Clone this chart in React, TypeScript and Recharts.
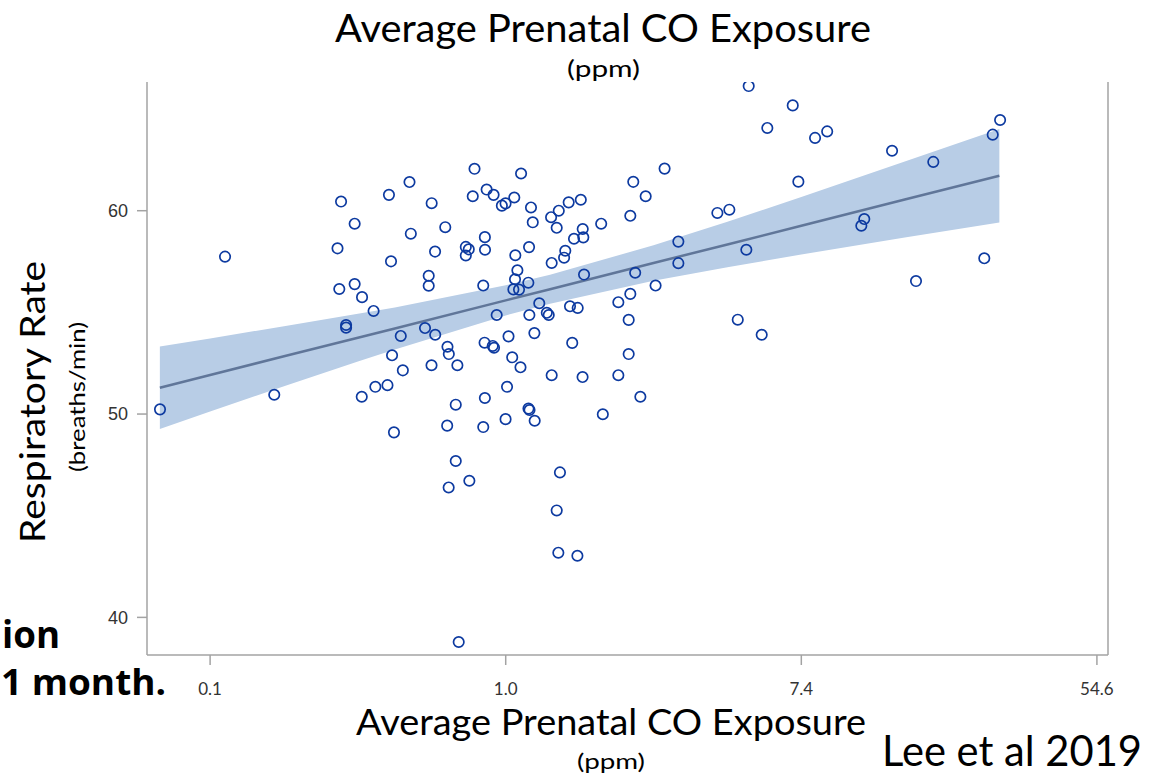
import React from "react"
import {
  ComposedChart,
  Scatter,
  Line,
  Area,
  XAxis,
  YAxis,
  ReferenceLine,
} from "recharts"

// ln(average prenatal CO, ppm) for each infant
const LN_CO = [
  -2.339, -1.899, -1.566, -1.138, -1.126, -1.114, -1.08, -1.08, -1.022, -1.022,
  -0.972, -0.894, -0.974, -0.882, -0.8, -0.79, -0.776, -0.769, -0.756, -0.71,
  -0.696, -0.651, -0.642, -0.546, -0.521, -0.521, -0.501, -0.502, -0.477, -0.478,
  -0.409, -0.394, -0.385, -0.396, -0.386, -0.338, -0.338, -0.327, -0.318, -0.27,
  -0.25, -0.27, -0.246, -0.223, -0.211, -0.141, -0.14, -0.152, -0.143, -0.088,
  -0.079, -0.141, -0.152, -0.129, -0.082, -0.061, -0.026, -0.001, -0.001, 0.009,
  0.019, 0.044, 0.058, 0.065, 0.079, 0.063, 0.052, 0.09, 0.153, 0.1,
  0.104, 0.158, 0.16, 0.171, 0.183, 0.194, 0.154, 0.161, 0.196, 0.227,
  0.278, 0.291, 0.307, 0.311, 0.311, 0.345, 0.345, 0.356, 0.359, 0.367,
  0.403, 0.395, 0.426, 0.435, 0.487, 0.45, 0.462, 0.485, 0.508, 0.521,
  0.525, 0.52, 0.53, 0.646, 0.657, 0.762, 0.762, 0.832, 0.832, 0.843,
  0.843, 0.863, 0.876, 0.911, 0.947, 1.014, 1.075, 1.168, 1.168, 1.432,
  1.513, 1.57, 1.628, 1.644, 1.732, 1.77, 1.942, 1.98, 2.093, 2.175,
  2.406, 2.426, 2.614, 2.776, 2.893, 3.238, 3.295, 3.345,
]

// respiratory rate at 1 month (breaths/min)
const RESP_RATE = [
  50.23, 57.74, 50.95, 58.15, 56.15, 60.45, 54.38, 54.25, 59.36, 56.39,
  55.75, 55.07, 50.85, 51.34, 51.42, 60.78, 57.51, 52.89, 49.1, 53.84,
  52.15, 61.41, 58.87, 54.23, 56.8, 56.31, 60.37, 52.4, 53.9, 57.99,
  59.19, 53.31, 52.95, 49.43, 46.39, 50.46, 47.69, 52.4, 38.79, 58.22,
  58.1, 57.8, 46.72, 60.71, 62.06, 58.7, 58.08, 56.32, 53.51, 53.35,
  53.26, 50.79, 49.36, 61.04, 60.78, 54.87, 60.25, 60.36, 49.75, 51.34,
  53.82, 52.79, 60.65, 57.81, 57.07, 56.63, 56.13, 56.12, 56.46, 52.3,
  61.83, 58.21, 54.87, 60.16, 59.43, 53.98, 50.27, 50.2, 49.67, 55.45,
  54.98, 54.87, 59.68, 57.43, 51.91, 59.16, 45.26, 43.18, 60.0, 47.13,
  58.03, 57.69, 60.41, 55.3, 55.22, 53.5, 58.62, 43.03, 60.54, 59.1,
  58.69, 51.82, 56.86, 59.36, 49.99, 55.5, 51.91, 54.63, 52.95, 59.75,
  55.91, 61.42, 56.95, 50.85, 60.71, 56.32, 62.07, 58.48, 57.42, 59.89,
  60.05, 54.64, 58.08, 66.13, 53.9, 64.07, 65.18, 61.43, 63.58, 63.9,
  59.26, 59.59, 62.95, 56.54, 62.4, 57.66, 63.74, 64.46,
]

// fitted line with 95% confidence band
const FIT_X = [-2.34, -2, -1.5, -1, -0.75, 0, 0.3, 1, 1.5, 2, 2.7, 3.34]
const FIT_Y = [51.29, 51.92, 52.84, 53.75, 54.21, 55.59, 56.14, 57.43, 58.34, 59.26, 60.55, 61.72]
const BAND_LOW = [49.26, 50.12, 51.37, 52.58, 53.18, 54.85, 55.43, 56.56, 57.22, 57.85, 58.68, 59.42]
const BAND_HIGH = [53.32, 53.72, 54.32, 54.93, 55.24, 56.33, 56.85, 58.3, 59.46, 60.67, 62.42, 64.02]

const X_TICKS = [-2, 0, 2, 4]
const Y_TICKS = [40, 50, 60]
const X_DOMAIN = [-2.427, 4.075]
const Y_DOMAIN = [38.15, 66.33]

const points = LN_CO.map((x, i) => ({ x, y: RESP_RATE[i] }))
const fit = FIT_X.map((x, i) => ({ x, y: FIT_Y[i], band: [BAND_LOW[i], BAND_HIGH[i]] }))

const AXIS_GRAY = "#a3a3a3"
const POINT_BLUE = "#0d3aa0"

const OpenCircle = (props: any) => {
  const { cx, cy } = props
  if (cx == null || cy == null) return null
  return <circle cx={cx} cy={cy} r={5.2} fill="none" stroke={POINT_BLUE} strokeWidth={1.7} />
}

const XTick = (props: any) => {
  const { x, y, payload } = props
  return (
    <text x={x} y={y + 16} dy="0.71em" textAnchor="middle" fontFamily="Lato" fontSize={17} fill="#333">
      {Math.exp(payload.value).toFixed(1)}
    </text>
  )
}

export default function App() {
  return (
    <div style={{ position: "absolute", left: 0, top: 0, width: 1150, height: 779, background: "#fff" }}>
      <ComposedChart
        width={1150}
        height={779}
        margin={{ top: 82, right: 42, bottom: 64, left: 87 }}
      >
        <XAxis
          type="number"
          dataKey="x"
          domain={X_DOMAIN}
          ticks={X_TICKS}
          allowDataOverflow
          height={60}
          tickSize={10}
          stroke={AXIS_GRAY}
          strokeWidth={1.5}
          tick={<XTick />}
        />
        <YAxis
          type="number"
          dataKey="y"
          domain={Y_DOMAIN}
          ticks={Y_TICKS}
          allowDataOverflow
          width={60}
          tickSize={10}
          tickMargin={9}
          stroke={AXIS_GRAY}
          strokeWidth={1.5}
          tick={{ fill: "#333", fontSize: 18, fontFamily: "Liberation Sans" }}
        />
        <ReferenceLine x={X_DOMAIN[1]} stroke={AXIS_GRAY} strokeWidth={1.5} />
        <Area
          data={fit}
          dataKey="band"
          type="linear"
          stroke="none"
          fill="#b8cde6"
          fillOpacity={1}
          isAnimationActive={false}
        />
        <Line
          data={fit}
          dataKey="y"
          type="linear"
          stroke="#607699"
          strokeWidth={2.5}
          dot={false}
          isAnimationActive={false}
        />
        <Scatter data={points} dataKey="y" shape={<OpenCircle />} isAnimationActive={false} />
      </ComposedChart>

      <svg
        width={1150}
        height={779}
        style={{ position: "absolute", left: 0, top: 0, pointerEvents: "none" }}
      >
        <text x={335} y={42} fontFamily="Lato" fontSize={38} textLength={536} lengthAdjust="spacingAndGlyphs">
          Average Prenatal CO Exposure
        </text>
        <text x={567} y={77} fontFamily="Lato" fontSize={23} textLength={73} lengthAdjust="spacingAndGlyphs">
          (ppm)
        </text>
        <text x={356} y={735} fontFamily="Lato" fontSize={37} textLength={510} lengthAdjust="spacingAndGlyphs">
          Average Prenatal CO Exposure
        </text>
        <text x={577} y={769} fontFamily="Lato" fontSize={21} textLength={68} lengthAdjust="spacingAndGlyphs">
          (ppm)
        </text>
        <text x={882} y={766} fontFamily="Lato" fontSize={42} textLength={260} lengthAdjust="spacingAndGlyphs">
          Lee et al 2019
        </text>
        <text x={2} y={648} fontFamily="Open Sans" fontWeight="bold" fontSize={37} textLength={58} lengthAdjust="spacingAndGlyphs">
          ion
        </text>
        <text x={1} y={695} fontFamily="Open Sans" fontWeight="bold" fontSize={36} textLength={165} lengthAdjust="spacingAndGlyphs">
          1 month.
        </text>
        <text
          transform="translate(45,402) rotate(-90)"
          textAnchor="middle"
          fontFamily="Lato"
          fontSize={34}
          textLength={282}
          lengthAdjust="spacingAndGlyphs"
        >
          Respiratory Rate
        </text>
        <text
          transform="translate(85,397) rotate(-90)"
          textAnchor="middle"
          fontFamily="Lato"
          fontSize={21}
          textLength={150}
          lengthAdjust="spacingAndGlyphs"
        >
          (breaths/min)
        </text>
      </svg>
    </div>
  )
}
